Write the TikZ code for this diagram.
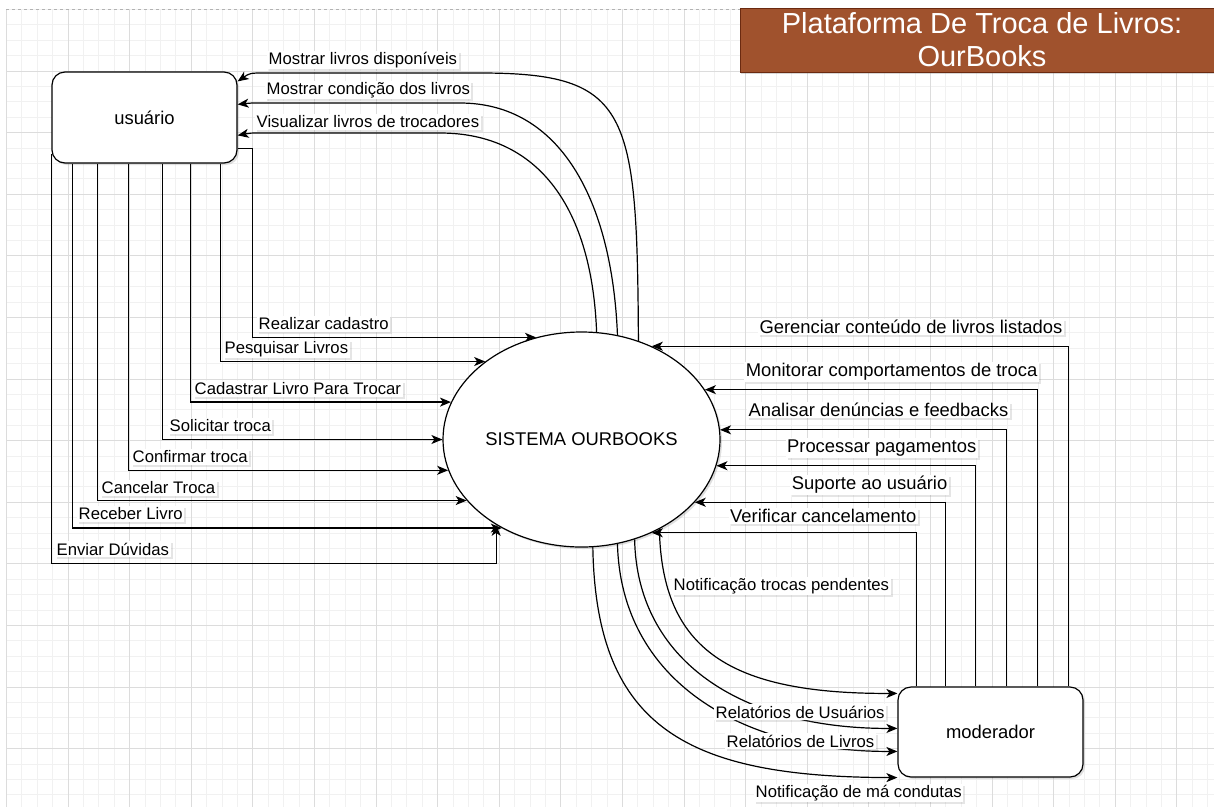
\documentclass[tikz,border=0pt]{standalone}
\usepackage{fontspec}
\setmainfont{Liberation Sans}
\usetikzlibrary{shapes.geometric, arrows.meta, shadows}
\definecolor{gridmin}{HTML}{F1F1F1}
\definecolor{gridmaj}{HTML}{DCDCDC}
\definecolor{titlebg}{HTML}{A0522D}
\definecolor{titledraw}{HTML}{6B2A10}
\tikzstyle{ent} = [rectangle, rounded corners=13pt, minimum width=185pt, minimum height=91pt, text centered, draw=black, line width=1.2pt, fill=white, font=\fontsize{18.4}{20}\selectfont, drop shadow={shadow xshift=2pt, shadow yshift=-2pt, opacity=0.25}]
\tikzstyle{sysnode} = [ellipse, minimum width=277pt, minimum height=215pt, inner sep=0pt, text centered, draw=black, line width=1.2pt, fill=white, font=\fontsize{18.4}{20}\selectfont, drop shadow={shadow xshift=2pt, shadow yshift=-2pt, opacity=0.25}]
\tikzstyle{ttl} = [rectangle, minimum width=484pt, minimum height=64pt, inner sep=0pt, align=center, text=white, fill=titlebg, draw=titledraw, line width=1pt, font=\fontsize{29}{33}\selectfont, drop shadow={shadow xshift=1pt, shadow yshift=-2pt, opacity=0.3}]
\tikzstyle{lbl} = [fill=white, inner sep=1.5pt, font=\fontsize{16.7}{18}\selectfont, drop shadow={shadow xshift=2pt, shadow yshift=-2pt, opacity=0.2}]
\tikzstyle{lblr} = [lbl, font=\fontsize{18.4}{20}\selectfont]
\tikzstyle{arrow} = [line width=1.2pt, -{Stealth[length=11pt, width=9pt, inset=3pt]}]

\begin{document}
\begin{tikzpicture}[x=1pt, y=-1pt]
\useasboundingbox (0,0) rectangle (1214,807);
\fill[white] (0,0) rectangle (1214,807);

% Grid
\foreach \i in {0,...,78} \draw[gridmin, line width=0.8pt] ({6.4+15.4*\i},9.4) -- ({6.4+15.4*\i},807);
\foreach \j in {0,...,51} \draw[gridmin, line width=0.8pt] (6.4,{9.4+15.4*\j}) -- (1214,{9.4+15.4*\j});
\foreach \i in {0,...,19} \draw[gridmaj, line width=0.8pt] ({6.4+61.6*\i},9.4) -- ({6.4+61.6*\i},807);
\foreach \j in {1,...,12} \draw[gridmaj, line width=0.8pt] (6.4,{9.4+61.6*\j}) -- (1214,{9.4+61.6*\j});
\draw[gray!60, dashed, line width=0.8pt] (6.4,9.4) -- (1214,9.4);

% Drawing nodes
\node (title) [ttl] at (982,40) {Plataforma De Troca de Livros:\\OurBooks};
\node (usr) [ent] at (144.5,117.5) {usuário};
\node (sys) [sysnode] at (581.5,439.5) {SISTEMA OURBOOKS};
\node (mod) [ent, minimum height=90pt] at (990.5,732) {moderador};

% Drawing arrows: usuario -> sistema
\draw [arrow] ([yshift=15pt]usr.south east) -- ++(15,0) |- (sys.114.2);
\draw [arrow] ([xshift=169pt]usr.south west) |- (sys.141.8);
\draw [arrow] ([xshift=139pt]usr.south west) |- (sys.164.8);
\draw [arrow] ([xshift=111pt]usr.south west) |- (sys.180);
\draw [arrow] ([xshift=77pt]usr.south west) |- (sys.193.4);
\draw [arrow] ([xshift=46pt]usr.south west) |- (sys.208.4);
\draw [arrow] ([xshift=21pt]usr.south west) |- (sys.228.4);
\draw [arrow] ([yshift=10pt]usr.south west) -- ++(0,410) -| (sys.225.8);

% Drawing arrows: sistema -> usuario
\draw [arrow] (sys.60.6) .. controls (637,110) and (630,73) .. (480,73) -- (265,73) .. controls (250,73) .. ([yshift=-10pt]usr.north east);
\draw [arrow] (sys.71.1) .. controls (612,200) and (560,103) .. (460,103) -- (265,103) .. controls (250,103) .. ([yshift=-33pt]usr.north east);
\draw [arrow] (sys.82.3) .. controls (592,210) and (540,133) .. (440,133) -- (265,133) .. controls (250,133) .. ([yshift=-64pt]usr.north east);

% Drawing arrows: moderador -> sistema
\draw [arrow] ([xshift=171pt]mod.north west) |- (sys.53.9);
\draw [arrow] ([xshift=140pt]mod.north west) |- (sys.22.9);
\draw [arrow] ([xshift=109pt]mod.north west) |- (sys.4.8);
\draw [arrow] ([xshift=78pt]mod.north west) |- (sys.349.7);
\draw [arrow] ([xshift=48pt]mod.north west) |- (sys.331);
\draw [arrow] ([xshift=19pt]mod.north west) |- (sys.307.4);

% Drawing arrows: sistema -> moderador
\draw [arrow] (sys.311.5) .. controls (662,650) and (730,694) .. ([yshift=-7pt]mod.north west);
\draw [arrow] (sys.298.3) .. controls (637,660) and (740,729) .. ([yshift=-42pt]mod.north west);
\draw [arrow] (sys.289.9) .. controls (621,680) and (740,752) .. ([yshift=-65pt]mod.north west);
\draw [arrow] (sys.276.7) .. controls (596,730) and (690,777) .. (mod.south west);

% Labels
\node (lmd) [lbl, anchor=west] at (267,60) {Mostrar livros disponíveis};
\node (lmc) [lbl, anchor=west] at (265,90) {Mostrar condição dos livros};
\node (lvt) [lbl, anchor=west] at (255,122) {Visualizar livros de trocadores};

\node (lrc) [lbl, anchor=west] at (257,324) {Realizar cadastro};
\node (lpl) [lbl, anchor=west] at (223,349) {Pesquisar Livros};
\node (lcl) [lbl, anchor=west] at (193,389) {Cadastrar Livro Para Trocar};
\node (lst) [lbl, anchor=west] at (168,426) {Solicitar troca};
\node (lct) [lbl, anchor=west] at (131,457) {Confirmar troca};
\node (lca) [lbl, anchor=west] at (100,488) {Cancelar Troca};
\node (lrl) [lbl, anchor=west] at (77,514) {Receber Livro};
\node (led) [lbl, anchor=west] at (55,549) {Enviar Dúvidas};

\node (lgc) [lblr, anchor=east] at (1064,327) {Gerenciar conteúdo de livros listados};
\node (lmt) [lblr, anchor=east] at (1039,372) {Monitorar comportamentos de troca};
\node (lad) [lblr, anchor=east] at (1010,410) {Analisar denúncias e feedbacks};
\node (lpp) [lblr, anchor=east] at (978,448) {Processar pagamentos};
\node (lsu) [lblr, anchor=east] at (949,485) {Suporte ao usuário};
\node (lvc) [lblr, anchor=east] at (918,516) {Verificar cancelamento};

\node (ltp) [lbl, anchor=west] at (672,586) {Notificação trocas pendentes};
\node (lru) [lbl, anchor=west] at (714,712) {Relatórios de Usuários};
\node (lrv) [lbl, anchor=west] at (725,741) {Relatórios de Livros};
\node (lmc2) [lbl, anchor=west] at (754,793) {Notificação de má condutas};
\end{tikzpicture}
\end{document}
